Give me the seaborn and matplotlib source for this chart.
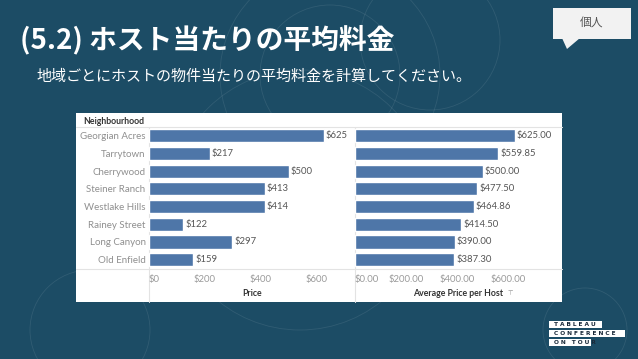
import matplotlib
matplotlib.use("Agg")
import matplotlib.pyplot as plt
import seaborn as sns
import pandas as pd
from matplotlib.patches import Rectangle, Polygon, Circle

# Data
neighbourhoods = ["Georgian Acres", "Tarrytown", "Cherrywood", "Steiner Ranch",
                  "Westlake Hills", "Rainey Street", "Long Canyon", "Old Enfield"]
price = [625, 217, 500, 413, 414, 122, 297, 159]
avg_price_per_host = [625.00, 559.85, 500.00, 477.50, 464.86, 414.50, 390.00, 387.30]
price_ticks = [0, 200, 400, 600]
host_ticks = [0, 200, 400, 600]

title = "(5.2) ホスト当たりの平均料金"
subtitle = "地域ごとにホストの物件当たりの平均料金を計算してください。"

df = pd.DataFrame({"Neighbourhood": neighbourhoods, "Price": price,
                   "AvgHost": avg_price_per_host})

sns.set_theme(style="white")
plt.rcParams["font.family"] = ["Lato", "DejaVu Sans"]

W, H = 638, 359
BG = "#1c4c65"
BAR = "#4e76a8"
LINE = "#e3e3e3"


def rect(x0, y0, x1, y1):
    # pixel box (top-left origin) -> figure fraction
    return [x0 / W, 1 - y1 / H, (x1 - x0) / W, (y1 - y0) / H]


fig = plt.figure(figsize=(W / 100, H / 100), dpi=100)
fig.patch.set_facecolor(BG)

# background layer in pixel coordinates
bg = fig.add_axes([0, 0, 1, 1], zorder=0)
bg.set_xlim(0, W)
bg.set_ylim(H, 0)
bg.axis("off")

# faint decorative circles
for cx, cy, r in [(330, 75, 110), (330, 75, 70), (300, 200, 130), (585, 330, 42),
                  (430, 40, 70), (90, 330, 60)]:
    bg.add_patch(Circle((cx, cy), r, fill=False, ec="white", lw=0.6, alpha=0.09))

bg.text(20, 40, title, color="white", fontsize=20, fontweight="bold",
        family=["Noto Sans CJK JP"], va="center", ha="left")
bg.text(37, 76, subtitle, color="white", fontsize=10.85,
        family=["Noto Sans CJK JP"], va="center", ha="left")

# speech bubble
bg.add_patch(Rectangle((553, 8), 78, 31, fc="#f2f2f2", ec="none"))
bg.add_patch(Polygon([(562, 38), (580, 38), (567, 49)], closed=True,
                     fc="#f2f2f2", ec="none"))
bg.text(592, 23, "個人", color="#555555", fontsize=8.5,
        family=["Noto Sans CJK JP"], va="center", ha="center")

# conference logo
for x0, y0, x1, y1, txt in [(549, 321, 602, 328, "T A B L E A U"),
                            (549, 329.5, 625, 336.5, "C O N F E R E N C E"),
                            (549, 338.5, 591, 345.5, "O N   T O U R")]:
    bg.add_patch(Rectangle((x0, y0), x1 - x0, y1 - y0, fc="white", ec="none"))
    bg.text(x0 + 5, (y0 + y1) / 2 + 0.3, txt, color="#1a2a3a", fontsize=4.2,
            fontweight="bold", va="center", ha="left", family=["DejaVu Sans"])

# white chart panel
bg.add_patch(Rectangle((76, 113), 486, 189, fc="white", ec="none"))
bg.plot([76, 562], [127, 127], color=LINE, lw=0.8)
bg.plot([76, 562], [268.5, 268.5], color=LINE, lw=0.8)
bg.plot([149, 149], [127, 302], color=LINE, lw=0.8)
bg.plot([355, 355], [127, 302], color=LINE, lw=0.8)

bg.text(83, 121, "Neighbourhood", color="#333333", fontsize=6.3,
        fontweight="bold", va="center", ha="left")
bg.text(252, 294, "Price", color="#333333", fontsize=6.3,
        fontweight="bold", va="center", ha="center")
bg.text(458, 294, "Average Price per Host", color="#333333", fontsize=6.3,
        fontweight="bold", va="center", ha="center")
bg.text(508, 294, "⊤", color="#888888", fontsize=4.5, va="center", ha="left",
        family=["DejaVu Sans"])

# left chart: Price
ax1 = fig.add_axes(rect(149, 127, 353, 268.5), zorder=2)
sns.barplot(data=df, y="Neighbourhood", x="Price", orient="h", color=BAR,
            width=0.74, saturation=1, ax=ax1)
ax1.bar_label(ax1.containers[0], labels=[f"${v:.0f}" for v in price],
              padding=1.5, fontsize=6.8, color="#555555")
ax1.set_xlim(0, 729)

# right chart: Average Price per Host
ax2 = fig.add_axes(rect(355, 127, 562, 268.5), zorder=2)
sns.barplot(data=df, y="Neighbourhood", x="AvgHost", orient="h", color=BAR,
            width=0.74, saturation=1, ax=ax2)
ax2.bar_label(ax2.containers[0], labels=[f"${v:.2f}" for v in avg_price_per_host],
              padding=1.5, fontsize=6.8, color="#555555")
ax2.set_xlim(0, 809)

for ax, ticks, fmt in [(ax1, price_ticks, "${:.0f}"), (ax2, host_ticks, "${:.2f}")]:
    ax.set_facecolor("none")
    ax.set_ylim(len(neighbourhoods) - 0.5, -0.5)
    ax.set_xlabel("")
    ax.set_ylabel("")
    for s in ax.spines.values():
        s.set_visible(False)
    ax.set_xticks(ticks)
    ax.set_xticklabels([fmt.format(t) for t in ticks])
    ax.tick_params(axis="x", length=0, pad=5, labelsize=6.8, labelcolor="#9a9a9a")
    ax.get_xticklabels()[0].set_horizontalalignment("left")

ax1.tick_params(axis="y", length=0, pad=2.5, labelsize=7, labelcolor="#8f8f8f")
ax2.set_yticks([])

fig.savefig("out.png", dpi=100, facecolor=fig.get_facecolor())
